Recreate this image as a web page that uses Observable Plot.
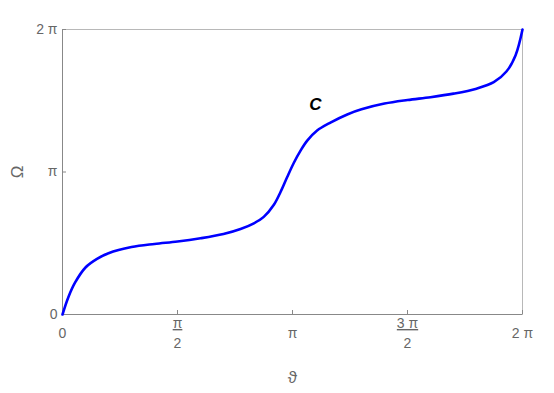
<!DOCTYPE html>
<html>
<head>
<meta charset="utf-8">
<script src="https://cdn.jsdelivr.net/npm/d3@7"></script>
<script src="https://cdn.jsdelivr.net/npm/@observablehq/plot@0.6"></script>
<style>
  html, body { margin: 0; padding: 0; background: #fff; }
  #chart svg { font-family: "Liberation Sans", Arial, sans-serif; }
</style>
</head>
<body>
<div id="chart"></div>
<script>
// values in units of π
const theta = [0, 0.025, 0.055, 0.1, 0.15, 0.2, 0.3, 0.4, 0.5, 0.6, 0.7, 0.774, 0.832, 0.875, 0.919, 0.948, 0.977, 1.006, 1.035, 1.064, 1.107, 1.165, 1.238, 1.3, 1.4, 1.5, 1.6, 1.7, 1.8, 1.875, 1.93, 1.97, 2.0];
const omega = [0, 0.12, 0.225, 0.33, 0.39, 0.43, 0.473, 0.495, 0.512, 0.535, 0.565, 0.600, 0.640, 0.685, 0.770, 0.860, 0.965, 1.065, 1.150, 1.220, 1.291, 1.347, 1.404, 1.44, 1.48, 1.505, 1.525, 1.55, 1.585, 1.63, 1.705, 1.82, 2.0];

const xTicks = [0, 0.5, 1, 1.5, 2];
const xTickLabels = ["0", "π\n2", "π", "3 π\n2", "2 π"];
const yTicks = [0, 1, 2];
const yTickLabels = ["0", "π", "2 π"];

const annotX = [1.1];
const annotY = [1.474];
const annotText = ["C"];

const curve = theta.map((t, i) => ({t, o: omega[i]}));
const annot = annotX.map((x, i) => ({x, y: annotY[i], s: annotText[i]}));

const plot = Plot.plot({
  width: 554,
  height: 393,
  marginLeft: 62,
  marginRight: 32,
  marginTop: 29,
  marginBottom: 79,
  style: {fontFamily: "Liberation Sans, Arial, sans-serif", fontSize: "14px", color: "#666", background: "#fff"},
  x: {domain: [0, 2]},
  y: {domain: [0, 2]},
  marks: [
    Plot.frame({stroke: "#b8b8b8"}),
    Plot.ruleX([0], {stroke: "#888"}),
    Plot.ruleY([0], {stroke: "#888"}),
    Plot.axisX({
      ticks: xTicks,
      tickFormat: (d, i) => xTickLabels[i],
      tickSize: -4,
      tickPadding: 21,
      lineAnchor: "middle",
      lineHeight: 1.4,
      stroke: "#888",
      fill: "#666",
      fontSize: 14,
      label: "ϑ",
      labelArrow: "none",
      labelAnchor: "center",
      labelOffset: 68
    }),
    Plot.axisY({
      ticks: yTicks,
      tickFormat: (d, i) => yTickLabels[i],
      tickSize: -4,
      tickPadding: 9,
      stroke: "#888",
      fill: "#666",
      fontSize: 14,
      label: "Ω",
      labelArrow: "none",
      labelAnchor: "center",
      labelOffset: 52
    }),
    Plot.line(curve, {x: "t", y: "o", stroke: "#0000ff", strokeWidth: 2.6, curve: "catmull-rom"}),
    Plot.text(annot, {x: "x", y: "y", text: "s", fill: "#000", fontSize: 17, fontWeight: "bold", fontStyle: "italic"})
  ]
});

// fraction bars: underline the numerator line of two-line tick labels
d3.select(plot).selectAll("g[aria-label='x-axis tick label'] text").each(function() {
  const tspans = d3.select(this).selectAll("tspan");
  if (tspans.size() === 2) {
    tspans.filter((d, i) => i === 0).style("text-decoration", "underline");
  }
});
d3.select(plot).selectAll("g[aria-label='x-axis label'] text, g[aria-label='y-axis label'] text")
  .each(function() { this.textContent = this.textContent.replace(/\s*[→↑←↓]\s*/g, ""); })
  .style("font-size", "17px").attr("fill", "#666");

document.getElementById("chart").appendChild(plot);
</script>
</body>
</html>
